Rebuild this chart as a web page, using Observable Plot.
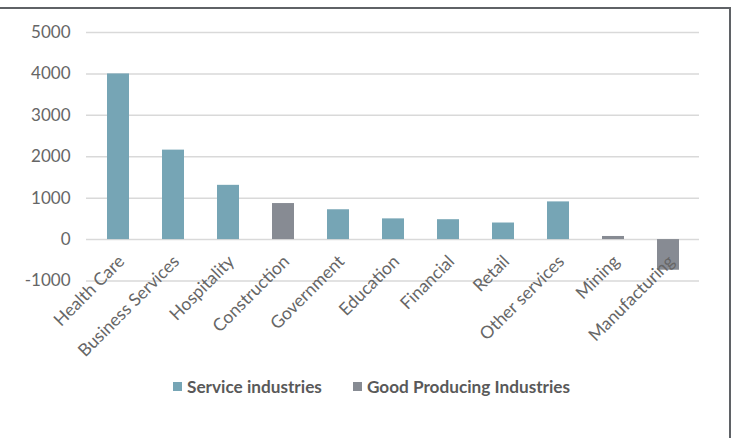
<!DOCTYPE html>
<html><head><meta charset="utf-8">
<script src="https://cdn.jsdelivr.net/npm/d3@7"></script>
<script src="https://cdn.jsdelivr.net/npm/@observablehq/plot@0.6"></script>
<style>
body{margin:0;background:#fff;}
#wrap{position:relative;width:733px;height:438px;overflow:hidden;font-family:Lato,sans-serif;background:#fff;}
#chart{position:absolute;left:0;top:0;}
#top{position:absolute;left:0;top:7px;width:731px;height:2px;background:#5f6266;}
#right{position:absolute;left:729px;top:7px;width:2px;height:440px;background:#5f6266;}
#legend{position:absolute;top:376px;left:173px;display:flex;align-items:center;font-weight:bold;font-size:17.2px;color:#595959;white-space:nowrap;}
#legend .item{display:flex;align-items:center;}
#legend .sw{width:9px;height:9px;margin-right:5px;}
</style>
</head><body>
<div id="wrap">
  <div id="top"></div><div id="right"></div>
  <div id="chart"></div>
  <div id="legend"></div>
</div>
<script>
const categories = ["Health Care","Business Services","Hospitality","Construction","Government","Education","Financial","Retail","Other services","Mining","Manufacturing"];
const values = [4000, 2160, 1310, 870, 720, 500, 480, 400, 910, 75, -740];
const groupOf = ["Service industries","Service industries","Service industries","Good Producing Industries","Service industries","Service industries","Service industries","Service industries","Service industries","Good Producing Industries","Good Producing Industries"];
const groups = ["Service industries","Good Producing Industries"];
const groupColors = ["#76a5b5","#878b93"];
const yTicks = [-1000, 0, 1000, 2000, 3000, 4000, 5000];

const data = categories.map((c, i) => ({category: c, value: values[i], group: groupOf[i]}));

const H = 370;
const chart = Plot.plot({
  width: 733,
  height: H,
  marginTop: 32,
  marginBottom: H - 280.5,
  marginLeft: 86,
  marginRight: 34,
  style: {fontFamily: "Lato, sans-serif", fontSize: "17px", color: "#595959", background: "transparent"},
  x: {domain: categories, paddingInner: 0.6, paddingOuter: 0.3, axis: null},
  y: {domain: [-1000, 5000], axis: null},
  color: {domain: groups, range: groupColors},
  marks: [
    Plot.gridY(yTicks, {stroke: "#d9d9d9", strokeOpacity: 1, strokeWidth: 1.5}),
    Plot.axisY(yTicks, {tickSize: 0, tickPadding: 16, fontSize: 17, fill: "#666", label: null, tickFormat: d => String(d)}),
    Plot.barY(data, {x: "category", y: "value", fill: "group"}),
    Plot.text(categories, {x: d => d, y: () => 0, rotate: -45, textAnchor: "end", dx: 3, dy: 19, fontSize: 17.5, fill: "#666"})
  ]
});
document.getElementById("chart").appendChild(chart);

const legend = document.getElementById("legend");
groups.forEach((g, i) => {
  const item = document.createElement("div");
  item.className = "item";
  if (i > 0) item.style.marginLeft = "31px";
  const sw = document.createElement("span");
  sw.className = "sw";
  sw.style.background = groupColors[i];
  const t = document.createElement("span");
  t.textContent = g;
  item.appendChild(sw); item.appendChild(t);
  legend.appendChild(item);
});
</script>
</body></html>
